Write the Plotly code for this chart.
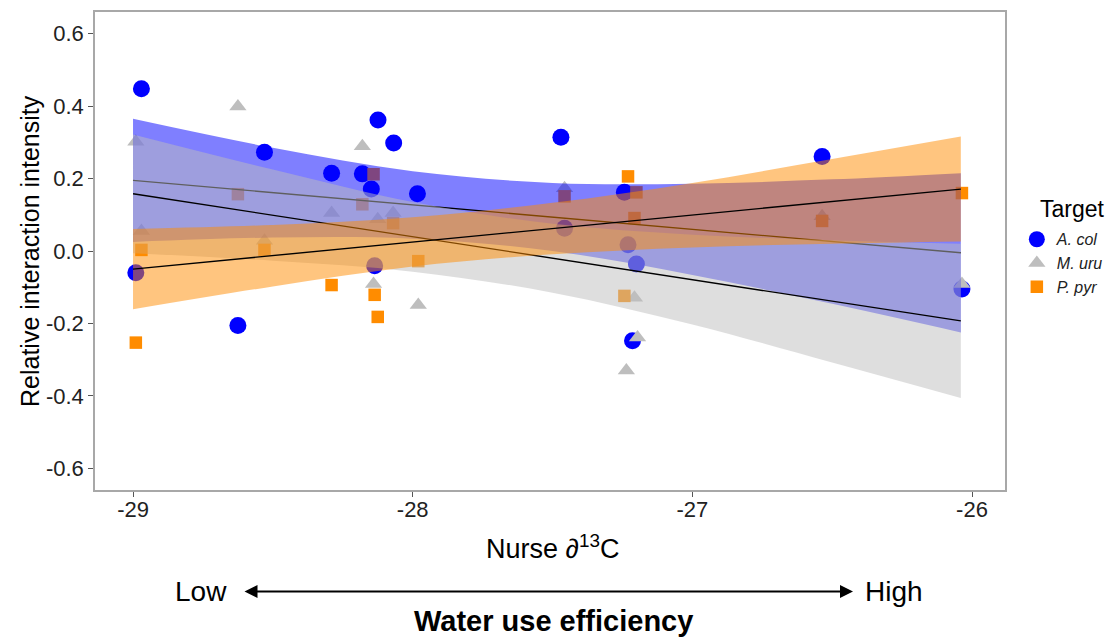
import plotly.graph_objects as go

# ---------------- data ----------------
acol_x = [-28.97, -28.99, -28.625, -28.53, -28.29, -28.18, -28.148, -28.124, -28.068, -27.983,
          -28.136, -27.47, -27.457, -27.243, -27.23, -27.2, -27.214, -26.536, -26.036]
acol_y = [0.448, -0.06, -0.206, 0.273, 0.215, 0.213, 0.171, 0.362, 0.298, 0.158,
          -0.041, 0.314, 0.063, 0.162, 0.017, -0.036, -0.248, 0.261, -0.105]

muru_x = [-28.99, -28.625, -28.18, -28.97, -28.29, -28.125, -28.07, -28.53, -28.14, -27.98,
          -27.457, -27.207, -27.196, -27.236, -26.536, -26.036]
muru_y = [0.302, 0.399, 0.289, 0.055, 0.105, 0.088, 0.105, 0.028, -0.091, -0.149,
          0.173, -0.129, -0.239, -0.33, 0.096, -0.091]

ppyr_x = [-28.99, -28.97, -28.53, -28.625, -28.18, -28.14, -28.29, -28.136, -28.125, -27.98,
          -28.07, -27.23, -27.2, -27.457, -27.207, -27.243, -26.036, -26.536]
ppyr_y = [-0.253, 0.003, 0.003, 0.157, 0.129, 0.212, -0.094, -0.121, -0.182, -0.028,
          0.077, 0.206, 0.162, 0.151, 0.091, -0.124, 0.16, 0.083]

# fitted lines and confidence bands
fit_x = [-29.0, -26.04]
acol_fit = [0.195, -0.005]
muru_fit = [0.158, -0.193]
ppyr_fit = [-0.050, 0.171]

band_x = [-29.0, -28.5, -28.0, -27.5, -27.0, -26.5, -26.04]
acol_hi = [0.365, 0.285, 0.220, 0.188, 0.186, 0.198, 0.215]
acol_lo = [0.025, 0.037, 0.034, 0.000, -0.066, -0.146, -0.225]
muru_hi = [0.322, 0.225, 0.135, 0.075, 0.045, 0.030, 0.020]
muru_lo = [-0.006, -0.027, -0.057, -0.115, -0.203, -0.308, -0.406]
ppyr_hi = [0.061, 0.072, 0.093, 0.133, 0.188, 0.254, 0.316]
ppyr_lo = [-0.161, -0.098, -0.043, -0.009, 0.010, 0.020, 0.026]

x_ticks = [-29, -28, -27, -26]
x_ticktext = ["-29", "-28", "-27", "-26"]
y_ticks = [0.6, 0.4, 0.2, 0.0, -0.2, -0.4, -0.6]
y_ticktext = ["0.6", "0.4", "0.2", "0.0", "-0.2", "-0.4", "-0.6"]

# ---------------- figure ----------------
FONT = "Liberation Sans, Arial, sans-serif"
BLUE = "#0000FF"
GREY = "#BEBEBE"
ORANGE = "#FF8C00"

fig = go.Figure()

fig.add_trace(go.Scatter(x=acol_x, y=acol_y, mode="markers", name="<i>A. col</i>",
                         marker=dict(color=BLUE, size=17, symbol="circle", line=dict(width=0))))
fig.add_trace(go.Scatter(x=muru_x, y=muru_y, mode="markers", name="<i>M. uru</i>",
                         marker=dict(color=GREY, size=15, symbol="triangle-up", line=dict(width=0))))
fig.add_trace(go.Scatter(x=ppyr_x, y=ppyr_y, mode="markers", name="<i>P. pyr</i>",
                         marker=dict(color=ORANGE, size=12.5, symbol="square", line=dict(width=0))))

bands = [
    (acol_lo, acol_hi, acol_fit, "rgba(0,0,255,0.5)"),
    (muru_lo, muru_hi, muru_fit, "rgba(190,190,190,0.5)"),
    (ppyr_lo, ppyr_hi, ppyr_fit, "rgba(255,140,0,0.5)"),
]
for lo, hi, fit, fc in bands:
    fig.add_trace(go.Scatter(x=band_x, y=lo, mode="lines", showlegend=False, hoverinfo="skip",
                             line=dict(width=0, shape="spline", color=fc)))
    fig.add_trace(go.Scatter(x=band_x, y=hi, mode="lines", showlegend=False, hoverinfo="skip",
                             fill="tonexty", fillcolor=fc,
                             line=dict(width=0, shape="spline", color=fc)))
    fig.add_trace(go.Scatter(x=fit_x, y=fit, mode="lines", showlegend=False, hoverinfo="skip",
                             line=dict(color="black", width=1.4)))

fig.update_layout(
    width=1119, height=639,
    margin=dict(l=95, r=114, t=10, b=149),
    paper_bgcolor="white", plot_bgcolor="white",
    font=dict(family=FONT, color="#222222"),
    showlegend=True,
    legend=dict(x=1.013, y=0.56, xanchor="left", yanchor="top", traceorder="normal",
                font=dict(family=FONT, size=16, color="#222222"),
                bgcolor="rgba(0,0,0,0)", tracegroupgap=0),
)

fig.update_xaxes(range=[-29.136, -25.882], tickvals=x_ticks, ticktext=x_ticktext,
                 showgrid=False, zeroline=False, showline=True, mirror=True,
                 linecolor="#A8A8A8", linewidth=1.5,
                 ticks="outside", ticklen=5, tickcolor="#555555", tickwidth=1.2,
                 ticklabelstandoff=-6,
                 tickfont=dict(family=FONT, size=22, color="#222222"))
fig.update_yaxes(range=[-0.66, 0.66], tickvals=y_ticks, ticktext=y_ticktext,
                 showgrid=False, zeroline=False, showline=True, mirror=True,
                 linecolor="#A8A8A8", linewidth=1.5,
                 ticks="outside", ticklen=5, tickcolor="#555555", tickwidth=1.2,
                 tickfont=dict(family=FONT, size=22, color="#222222"))

annos = [
    dict(text="Relative interaction intensity", x=-0.0714, y=0.5, xref="paper", yref="paper",
         textangle=-90, showarrow=False, font=dict(size=25, color="black"),
         xanchor="center", yanchor="middle"),
    dict(text="Nurse \u2202<sup>13</sup>C", x=(552 - 95) / 910, y=(490 - 547) / 480,
         xref="paper", yref="paper",
         showarrow=False, font=dict(size=27, color="black"), xanchor="center", yanchor="middle"),
    dict(text="Target", x=(1072 - 95) / 910, y=(490 - 208) / 480, xref="paper", yref="paper",
         showarrow=False, font=dict(size=23, color="black"), xanchor="center", yanchor="middle"),
    dict(text="Low", x=(201 - 95) / 910, y=(490 - 592) / 480, xref="paper", yref="paper",
         showarrow=False, font=dict(size=28, color="black"), xanchor="center", yanchor="middle"),
    dict(text="High", x=(894 - 95) / 910, y=(490 - 592) / 480, xref="paper", yref="paper",
         showarrow=False, font=dict(size=28, color="black"), xanchor="center", yanchor="middle"),
    dict(text="<b>Water use efficiency</b>", x=(553 - 95) / 910, y=(490 - 622) / 480,
         xref="paper", yref="paper", showarrow=False, font=dict(size=29, color="black"),
         xanchor="center", yanchor="middle"),
    dict(text="", x=(853 - 95) / 910, y=(490 - 592) / 480, xref="paper", yref="paper",
         ax=-610, ay=0, axref="pixel", ayref="pixel", showarrow=True,
         arrowside="end+start", arrowhead=2, arrowsize=1.3, arrowwidth=2, arrowcolor="black"),
]
fig.update_layout(annotations=annos)

fig.write_html("out.html")
